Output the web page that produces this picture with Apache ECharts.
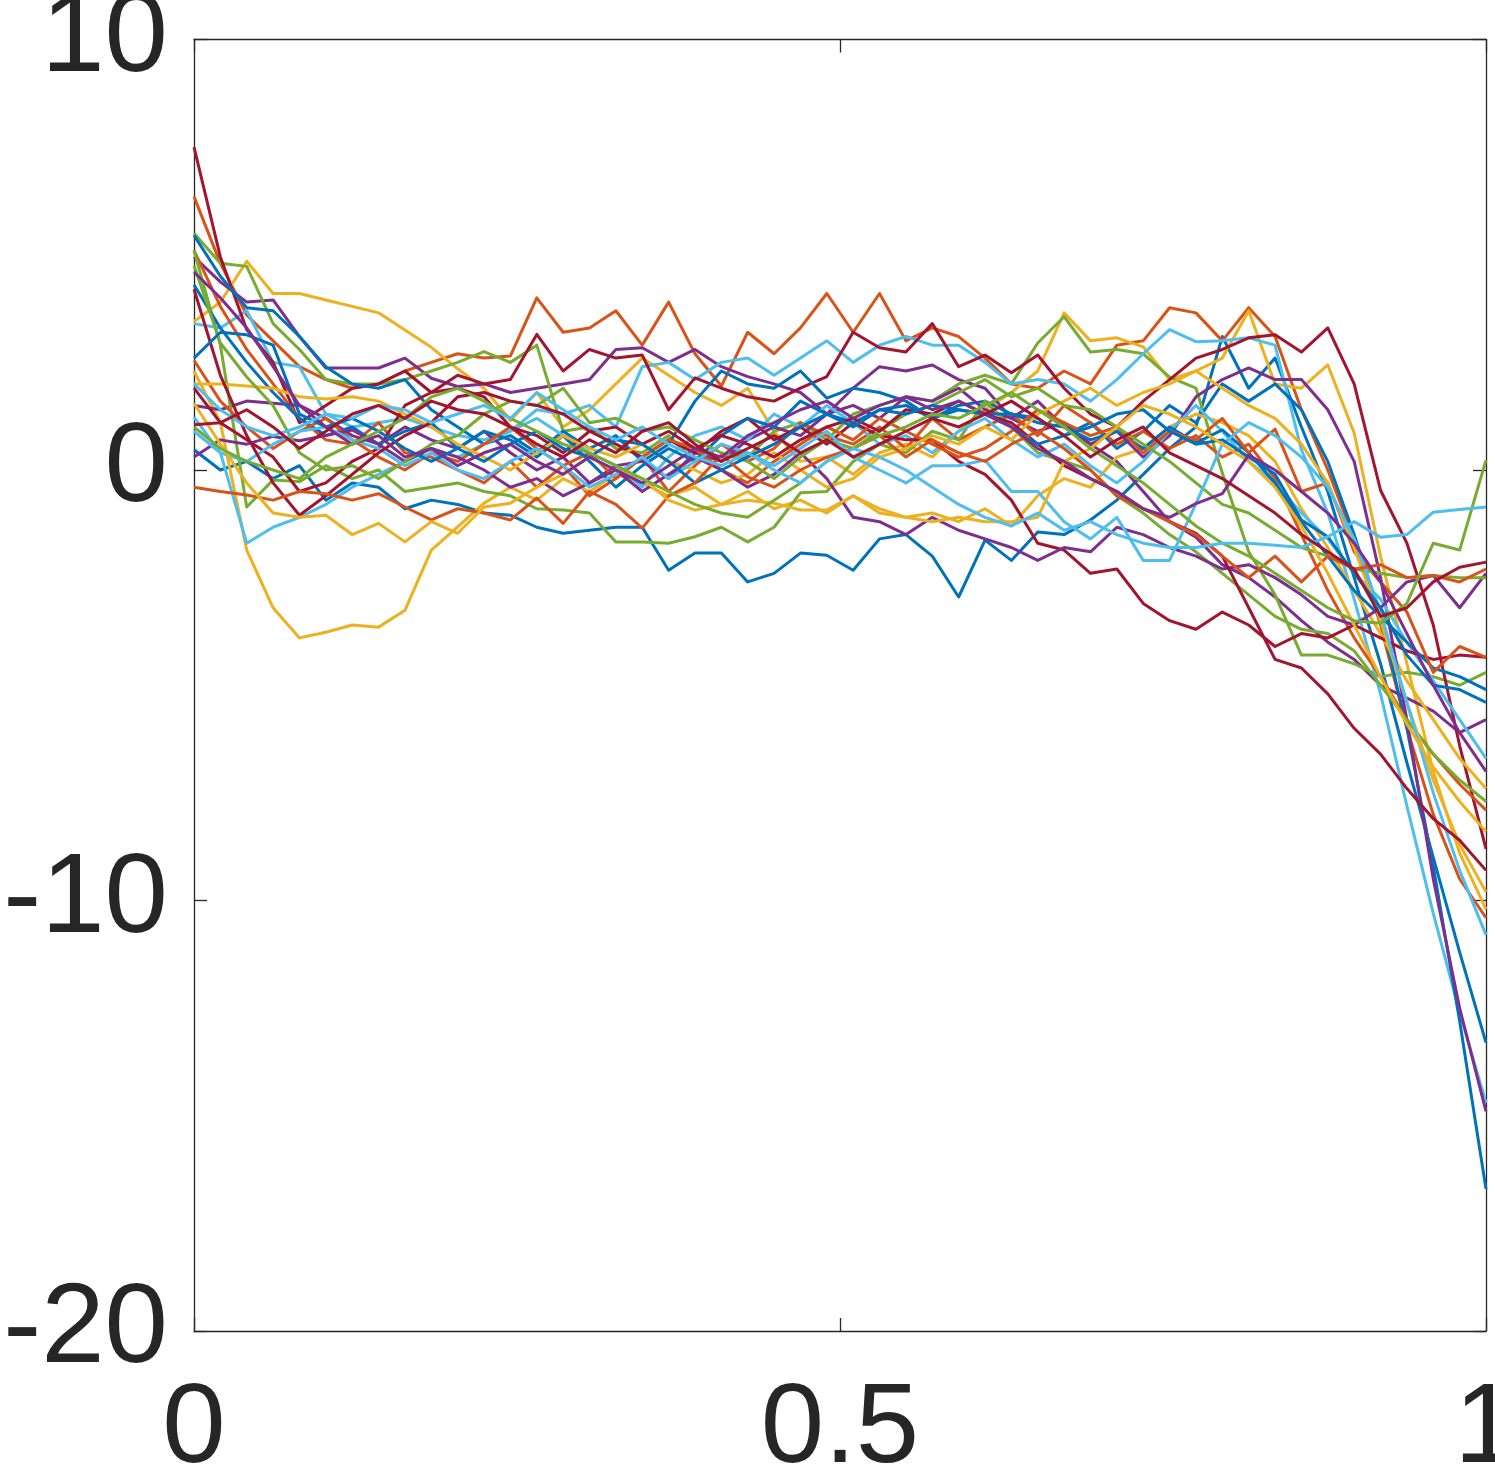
<!DOCTYPE html>
<html><head><meta charset="utf-8">
<script src="https://cdn.jsdelivr.net/npm/echarts@6/dist/echarts.min.js"></script>
<style>html,body{margin:0;padding:0;background:#fff}#c{width:1495px;height:1468px}</style>
</head><body><div id="c"></div>
<script>
// sample count along x (0 .. 1)
const nPoints = 50;
const xTicks = [0, 0.5, 1];
const yTicks = [-20, -10, 0, 10];
const lineColors = ['#0072BD','#D95319','#EDB120','#7E2F8E','#77AC30','#4DBEEE','#A2142F'];

const s00 = [0.47,0.0,0.2,-0.2,0.1,-0.7,-0.3,-0.4,-0.9,-0.7,
 -0.8,-1.0,-1.05,-1.33,-1.47,-1.4,-1.33,-1.33,-2.33,-1.93,
 -1.93,-2.6,-2.4,-1.93,-1.98,-2.33,-1.6,-1.5,-2.0,-2.95,
 -1.63,-2.1,-1.44,-1.5,-1.16,-0.7,-0.1,0.5,1.0,3.1,
 1.9,2.6,1.0,-0.5,-2.5,-4.5,-6.8,-9.0,-11.2,-13.3];
const s01 = [6.35,4.8,3.6,3.0,2.4,2.1,1.9,2.0,2.3,2.5,
 2.7,2.6,2.65,4.0,3.2,3.3,3.7,2.9,3.9,2.7,
 1.95,3.2,2.7,3.3,4.1,3.2,4.1,3.0,3.3,3.1,
 2.6,2.0,1.9,2.3,2.0,2.9,3.0,3.77,3.65,3.0,
 3.77,3.1,1.4,0.0,-1.6,-3.6,-6.0,-8.0,-9.5,-10.4];
const s02 = [3.45,3.9,4.85,4.1,4.1,3.95,3.8,3.65,3.25,2.85,
 2.35,1.9,1.15,1.8,1.0,1.4,2.0,2.6,2.2,1.8,
 1.5,1.9,0.9,0.2,0.3,-0.1,0.4,0.6,0.3,0.9,
 1.4,1.8,2.3,3.65,3.0,3.07,2.86,2.1,2.3,2.6,
 3.7,2.0,1.9,2.44,0.86,-2.0,-4.5,-7.0,-8.9,-10.2];
const s03 = [4.95,4.37,3.9,3.95,3.1,2.37,2.37,2.37,2.6,2.13,
 1.94,2.0,1.8,1.9,2.0,2.1,2.8,2.84,2.5,2.8,
 2.4,2.17,2.0,1.8,1.3,1.9,2.4,2.3,2.44,2.1,
 1.9,1.2,0.9,1.1,0.6,0.2,-0.5,-1.2,-1.56,-2.2,
 -2.5,-2.95,-3.5,-4.0,-4.4,-5.0,-5.3,-5.6,-6.1,-5.8];
const s04 = [5.5,4.8,4.73,3.4,2.8,2.1,2.0,2.0,2.1,2.3,
 2.5,2.75,2.5,2.9,0.9,1.0,0.5,0.4,0.8,0.2,
 0.6,0.3,0.9,1.1,0.7,1.3,1.5,1.7,1.6,2.0,
 2.2,2.0,2.95,3.56,2.74,2.8,2.7,2.16,1.9,-0.07,
 -1.9,-2.9,-4.3,-4.3,-4.5,-4.8,-4.7,-4.8,-5.0,-4.7];
const s05 = [3.4,3.3,3.7,2.5,2.4,1.3,1.0,1.1,1.2,1.0,
 0.8,0.7,0.9,1.4,1.3,1.5,1.0,2.4,2.5,2.1,
 2.5,2.6,2.2,2.6,3.0,2.5,2.9,3.1,2.9,2.9,
 2.5,2.0,2.1,2.0,1.6,2.1,2.7,3.26,2.98,3.0,
 3.07,2.9,0.47,-1.0,-3.0,-5.2,-7.8,-10.3,-12.6,-14.7];
const s06 = [7.5,4.95,3.26,2.5,1.1,1.5,1.9,2.0,2.3,1.8,
 2.2,2.0,2.1,3.15,2.3,2.8,2.6,2.67,1.4,2.14,
 1.9,1.7,1.6,1.9,2.17,3.2,2.84,2.74,3.4,2.4,
 2.67,2.26,2.67,1.9,1.3,1.0,1.6,2.1,2.6,2.8,
 3.07,3.14,2.74,3.3,2.0,-0.47,-1.7,-3.6,-6.4,-8.8];
const s07 = [5.45,4.5,3.77,3.7,3.1,2.4,2.0,1.9,2.1,1.4,
 1.0,0.6,0.8,0.4,0.9,0.5,0.8,0.2,0.6,1.6,
 2.3,2.0,1.9,2.3,1.67,1.9,1.8,1.6,1.2,1.5,
 1.6,1.3,1.2,0.8,1.1,0.5,0.9,1.5,1.1,2.0,
 1.6,2.0,1.4,0.2,-1.5,-3.4,-6.0,-9.2,-12.8,-16.7];
const s08 = [5.1,3.8,2.8,2.0,1.2,0.7,0.6,1.1,0.4,0.3,
 0.0,-0.3,0.2,-0.4,0.1,-0.6,-0.2,0.3,-0.5,0.1,
 0.6,0.2,0.5,1.1,0.8,0.6,1.0,0.5,1.2,0.7,
 1.0,1.3,0.8,1.5,1.1,0.6,0.9,0.5,0.8,0.3,
 0.6,-0.2,-1.5,-2.8,-3.9,-4.8,-5.8,-6.6,-7.3,-7.9];
const s09 = [2.3,1.1,-1.86,-3.2,-3.9,-3.77,-3.6,-3.65,-3.26,-1.86,
 -1.32,-0.77,-0.4,-0.7,-0.2,-0.5,-0.1,-0.3,-0.6,-0.4,
 -0.8,-0.5,-0.9,-0.7,-1.0,-0.6,-0.9,-1.1,-1.0,-1.2,
 -0.9,-1.3,-0.6,-0.2,-0.4,0.3,0.5,1.0,1.3,1.1,
 0.8,0.2,-0.9,-1.8,-2.8,-3.8,-4.9,-5.8,-6.7,-7.4];
const s10 = [1.5,1.4,1.6,1.55,1.5,1.2,0.8,0.6,1.0,0.7,
 0.5,0.9,0.4,0.0,0.3,-0.3,0.1,0.2,-0.2,0.4,
 0.2,0.7,1.0,0.8,1.3,1.5,1.2,1.7,1.6,1.9,
 1.4,1.2,1.6,1.0,0.6,0.9,0.3,0.8,1.7,2.1,
 2.37,2.1,2.1,1.4,0.2,-2.5,-5.8,-9.5,-12.5,-14.9];
const s11 = [5.1,2.9,-0.86,-0.23,-0.27,0.1,-0.2,0.0,-0.5,-0.4,
 -0.3,-0.5,-0.6,-0.9,-0.93,-1.0,-1.67,-1.67,-1.7,-1.55,
 -1.33,-1.67,-1.33,-0.53,-0.5,0.2,0.6,0.4,0.9,0.7,
 1.6,1.0,0.4,0.2,0.0,-0.6,-1.0,-1.5,-1.9,-2.4,
 -2.9,-3.4,-3.7,-3.8,-4.2,-5.0,-5.8,-6.6,-7.2,-7.7];
const s12 = [1.23,0.4,-1.7,-1.33,-1.1,-0.8,-0.4,-0.1,0.2,0.5,
 0.3,0.6,0.9,1.2,0.8,0.4,0.1,-0.4,0.3,0.8,
 1.0,0.7,1.3,1.0,1.5,1.1,0.6,0.8,0.4,0.9,
 1.2,0.7,0.3,0.6,0.1,-0.3,0.2,0.9,1.5,0.9,
 0.2,-0.3,-1.0,-1.6,-2.4,-3.0,-4.0,-4.9,-5.8,-6.7];
const s13 = [1.9,1.1,0.7,0.3,-0.5,-0.3,0.2,0.5,1.5,1.8,
 1.9,1.7,1.0,0.8,0.4,0.9,0.6,0.3,0.7,0.4,
 0.9,1.2,0.7,1.0,0.6,1.1,0.8,0.7,0.7,0.2,
 -0.1,-0.7,-1.7,-1.86,-2.4,-2.3,-3.1,-3.5,-3.7,-3.3,
 -3.6,-4.1,-3.8,-3.9,-3.6,-3.9,-4.2,-4.4,-4.3,-4.35];
const s14 = [4.3,3.3,2.5,1.8,1.2,0.8,1.0,0.6,0.9,1.1,
 0.5,0.9,0.7,0.3,0.8,0.2,-0.4,0.1,0.5,0.2,
 0.8,1.2,1.0,1.6,1.3,1.1,1.4,1.5,1.2,1.4,
 1.3,1.3,1.1,1.0,0.7,0.9,0.5,1.0,0.63,0.93,
 0.4,-0.3,-1.2,-2.0,-2.8,-3.4,-4.0,-4.6,-4.8,-5.1];
const s15 = [2.55,1.6,1.0,0.5,0.9,1.2,0.7,0.3,0.0,0.4,
 0.2,0.6,1.0,0.5,0.1,0.4,-0.2,0.3,0.7,0.5,
 0.0,-0.3,0.2,0.6,1.0,0.7,1.2,0.9,0.6,0.3,
 0.5,0.9,1.4,1.1,0.8,1.0,0.4,0.9,0.7,1.2,
 0.4,0.95,-0.5,-0.3,-1.9,-2.6,-3.3,-4.7,-4.1,-4.35];
const s16 = [2.0,2.0,1.95,1.9,1.7,1.65,1.7,1.6,1.3,1.0,
 0.6,0.3,0.0,0.4,0.8,0.5,0.3,0.6,0.2,0.0,
 -0.3,-0.1,0.4,0.0,-0.4,-0.2,0.3,0.5,0.8,0.6,
 1.0,0.7,1.3,1.6,1.9,1.5,1.8,2.0,2.3,1.9,
 1.5,1.2,0.6,-0.3,-1.8,-3.5,-5.4,-7.2,-8.7,-9.8];
const s17 = [0.3,0.7,0.6,0.78,0.68,0.8,0.93,0.6,0.2,0.5,
 0.3,0.0,-0.4,-0.2,-0.6,-0.3,0.0,-0.5,-0.1,0.3,
 0.0,-0.4,-0.1,0.4,-0.2,-1.1,-1.2,-1.5,-1.1,-1.4,
 -1.6,-1.8,-2.1,-1.8,-1.9,-1.33,-1.5,-1.8,-2.0,-2.3,
 -2.2,-2.5,-2.9,-3.4,-3.6,-3.2,-2.6,-2.45,-3.2,-2.4];
const s18 = [4.75,2.95,2.16,1.5,0.4,0.0,0.1,-0.2,0.2,0.6,
 0.8,1.3,1.6,1.5,1.9,1.1,1.2,0.9,1.0,0.7,
 0.4,0.2,-0.2,0.3,0.7,0.5,0.9,1.3,1.5,1.8,
 2.1,1.7,1.9,1.5,1.4,1.0,0.6,0.2,-0.3,-0.8,
 -1.0,-1.4,-1.8,-2.0,-2.3,-2.4,-2.5,-2.45,-2.5,-2.5];
const s19 = [0.9,0.4,0.2,0.6,0.9,1.0,0.7,0.5,0.1,0.4,
 0.0,-0.2,0.2,0.5,0.1,-0.4,-0.1,0.3,-0.2,0.2,
 0.6,0.4,0.1,0.5,0.9,0.3,0.0,-0.3,0.1,0.1,
 0.23,-0.5,-0.5,-1.2,-1.6,-1.1,-2.1,-2.1,-0.78,0.6,
 1.1,0.8,0.3,-0.4,-1.6,-3.3,-5.4,-7.5,-9.3,-10.8];
const s20 = [4.2,2.2,0.8,-0.3,-1.05,-0.6,-0.1,0.4,0.8,1.1,
 1.7,1.8,1.6,1.5,1.3,0.9,1.0,0.6,0.9,0.5,
 0.8,0.6,0.3,0.7,1.0,1.2,0.9,1.4,1.3,1.6,
 1.3,1.1,0.6,0.1,-0.2,-0.5,-0.9,-1.2,-1.47,-2.0,
 -3.2,-4.4,-4.6,-5.2,-6.0,-6.6,-7.4,-8.1,-8.6,-9.3];
const s21 = [2.6,3.2,3.14,2.9,1.3,1.0,1.2,0.9,0.5,0.2,
 0.5,0.2,0.6,0.9,0.5,0.3,0.7,0.6,0.2,-0.3,
 0.0,0.3,0.6,1.0,1.3,1.0,1.4,1.3,1.5,1.4,
 1.3,1.0,0.6,0.8,1.0,1.3,1.4,0.9,0.6,0.7,
 0.3,-0.1,-1.16,-1.55,-2.4,-3.2,-4.3,-5.0,-5.1,-5.4];
const s22 = [-0.4,-0.5,-0.58,-0.7,-0.5,-0.55,-0.7,-0.55,-0.86,-1.16,
 -0.9,-1.0,-1.16,-0.65,-1.24,-0.5,-0.8,-1.35,-0.6,-0.3,
 0.35,-0.16,-0.4,0.0,0.3,0.5,0.8,0.3,0.7,0.4,
 0.2,0.6,0.9,0.5,0.0,-0.6,-0.9,-1.2,-1.5,-2.0,
 -2.5,-2.0,-2.6,-2.0,-2.3,-2.2,-2.5,-2.45,-2.6,-2.3];
const s23 = [1.55,0.6,-0.3,-1.0,-1.1,-1.05,-1.5,-1.24,-1.67,-1.2,
 -1.47,-0.86,-0.77,-0.4,-0.1,0.3,0.0,-0.2,-0.7,-0.93,
 -0.8,-0.7,-0.77,-0.93,-0.93,-0.6,-1.0,-1.1,-1.2,-1.1,
 -1.2,-1.2,-1.1,0.2,0.5,1.0,1.5,1.3,1.0,0.6,
 0.2,-0.4,-1.3,-2.4,-3.6,-4.8,-5.9,-6.9,-7.7,-8.4];
const s24 = [4.6,4.0,3.3,2.4,1.5,1.0,0.6,0.8,0.3,0.5,
 0.1,0.4,0.6,0.2,-0.1,0.3,0.0,-0.3,0.1,0.5,
 0.3,0.8,1.1,1.4,1.6,1.2,1.5,1.7,1.4,1.6,
 1.3,1.0,0.5,0.2,-0.2,-0.5,-0.9,-1.1,-0.78,-0.55,
 0.35,0.0,-0.5,-1.0,-1.7,-2.6,-3.8,-5.0,-6.1,-7.0];
const s25 = [1.0,0.5,0.2,0.0,-0.2,0.3,0.6,0.9,1.2,1.7,
 1.9,1.6,1.2,0.9,0.6,0.4,0.1,-0.2,-0.5,-0.8,
 -1.0,-1.1,-0.7,-0.3,0.2,0.5,0.8,1.0,1.3,1.2,
 1.5,1.8,1.4,1.0,0.5,0.1,-0.3,-0.8,-1.3,-1.7,
 -2.0,-2.4,-2.8,-3.2,-3.5,-3.56,-3.1,-1.7,-1.86,0.23];
const s26 = [2.0,1.4,1.0,0.8,1.0,1.3,1.2,1.5,1.4,1.1,
 1.3,1.5,1.2,1.8,1.4,1.0,0.7,1.0,0.6,0.3,
 0.1,0.4,0.0,-0.3,0.2,0.5,0.3,0.0,-0.4,-0.8,
 -1.1,-1.3,-1.0,-1.4,-1.2,-1.5,-1.7,-1.8,-1.8,-1.7,
 -1.7,-1.75,-1.8,-1.55,-1.2,-1.56,-1.5,-0.98,-0.92,-0.86];
const s27 = [1.05,1.1,1.4,1.0,0.5,0.9,1.3,1.5,1.2,1.6,
 1.4,1.3,1.0,0.6,0.3,0.7,0.4,0.9,1.1,0.6,
 0.2,0.5,0.8,0.4,0.7,0.3,0.6,0.9,1.2,1.0,
 1.3,1.6,1.2,0.8,0.3,0.7,1.0,0.4,0.1,-0.2,
 -0.6,-1.0,-1.5,-1.9,-2.3,-3.4,-3.2,-2.6,-2.26,-2.14];

const allSeries = [s00,s01,s02,s03,s04,s05,s06,s07,s08,s09,s10,s11,s12,s13,
  s14,s15,s16,s17,s18,s19,s20,s21,s22,s23,s24,s25,s26,s27];

const axisColor = '#262626';
const labelFont = {fontSize:114, color:axisColor, fontFamily:'"Liberation Sans", Arial, Helvetica, sans-serif'};

function fmt(v){ return String(Math.round(v*10)/10); }

const chart = echarts.init(document.getElementById('c'), null, {renderer:'canvas'});
const baseAxisLine = {show:true, onZero:false, lineStyle:{color:axisColor, width:1.3}};
const baseTick = {show:true, inside:true, length:13, lineStyle:{color:axisColor, width:1.3}};

chart.setOption({
  animation:false,
  backgroundColor:'#ffffff',
  grid:{left:194, right:9, top:39.5, bottom:137, containLabel:false, outerBoundsMode:'none'},
  xAxis:[
    {type:'value', min:xTicks[0], max:xTicks[xTicks.length-1], interval:xTicks[1]-xTicks[0], position:'bottom',
     axisLine:baseAxisLine, axisTick:baseTick, splitLine:{show:false},
     axisLabel:Object.assign({margin:43, formatter:fmt, showMinLabel:true, showMaxLabel:true, hideOverlap:false}, labelFont)},
    {type:'value', min:xTicks[0], max:xTicks[xTicks.length-1], interval:xTicks[1]-xTicks[0], position:'top',
     axisLine:baseAxisLine, axisTick:baseTick, splitLine:{show:false}, axisLabel:{show:false}}
  ],
  yAxis:[
    {type:'value', min:yTicks[0], max:yTicks[yTicks.length-1], interval:yTicks[1]-yTicks[0], position:'left',
     axisLine:baseAxisLine, axisTick:baseTick, splitLine:{show:false},
     axisLabel:Object.assign({margin:26, formatter:fmt, showMinLabel:true, showMaxLabel:true, hideOverlap:false}, labelFont)},
    {type:'value', min:yTicks[0], max:yTicks[yTicks.length-1], interval:yTicks[1]-yTicks[0], position:'right',
     axisLine:baseAxisLine, axisTick:baseTick, splitLine:{show:false}, axisLabel:{show:false}}
  ],
  series: allSeries.map((vals, k) => ({
    type:'line',
    xAxisIndex:0, yAxisIndex:0,
    data: vals.map((v, i) => [i/(nPoints-1), v]),
    showSymbol:false, symbol:'none',
    lineStyle:{color:lineColors[k % lineColors.length], width:3, join:'round'},
    itemStyle:{color:lineColors[k % lineColors.length]},
    emphasis:{disabled:true},
    silent:true
  }))
});
</script>
</body></html>
